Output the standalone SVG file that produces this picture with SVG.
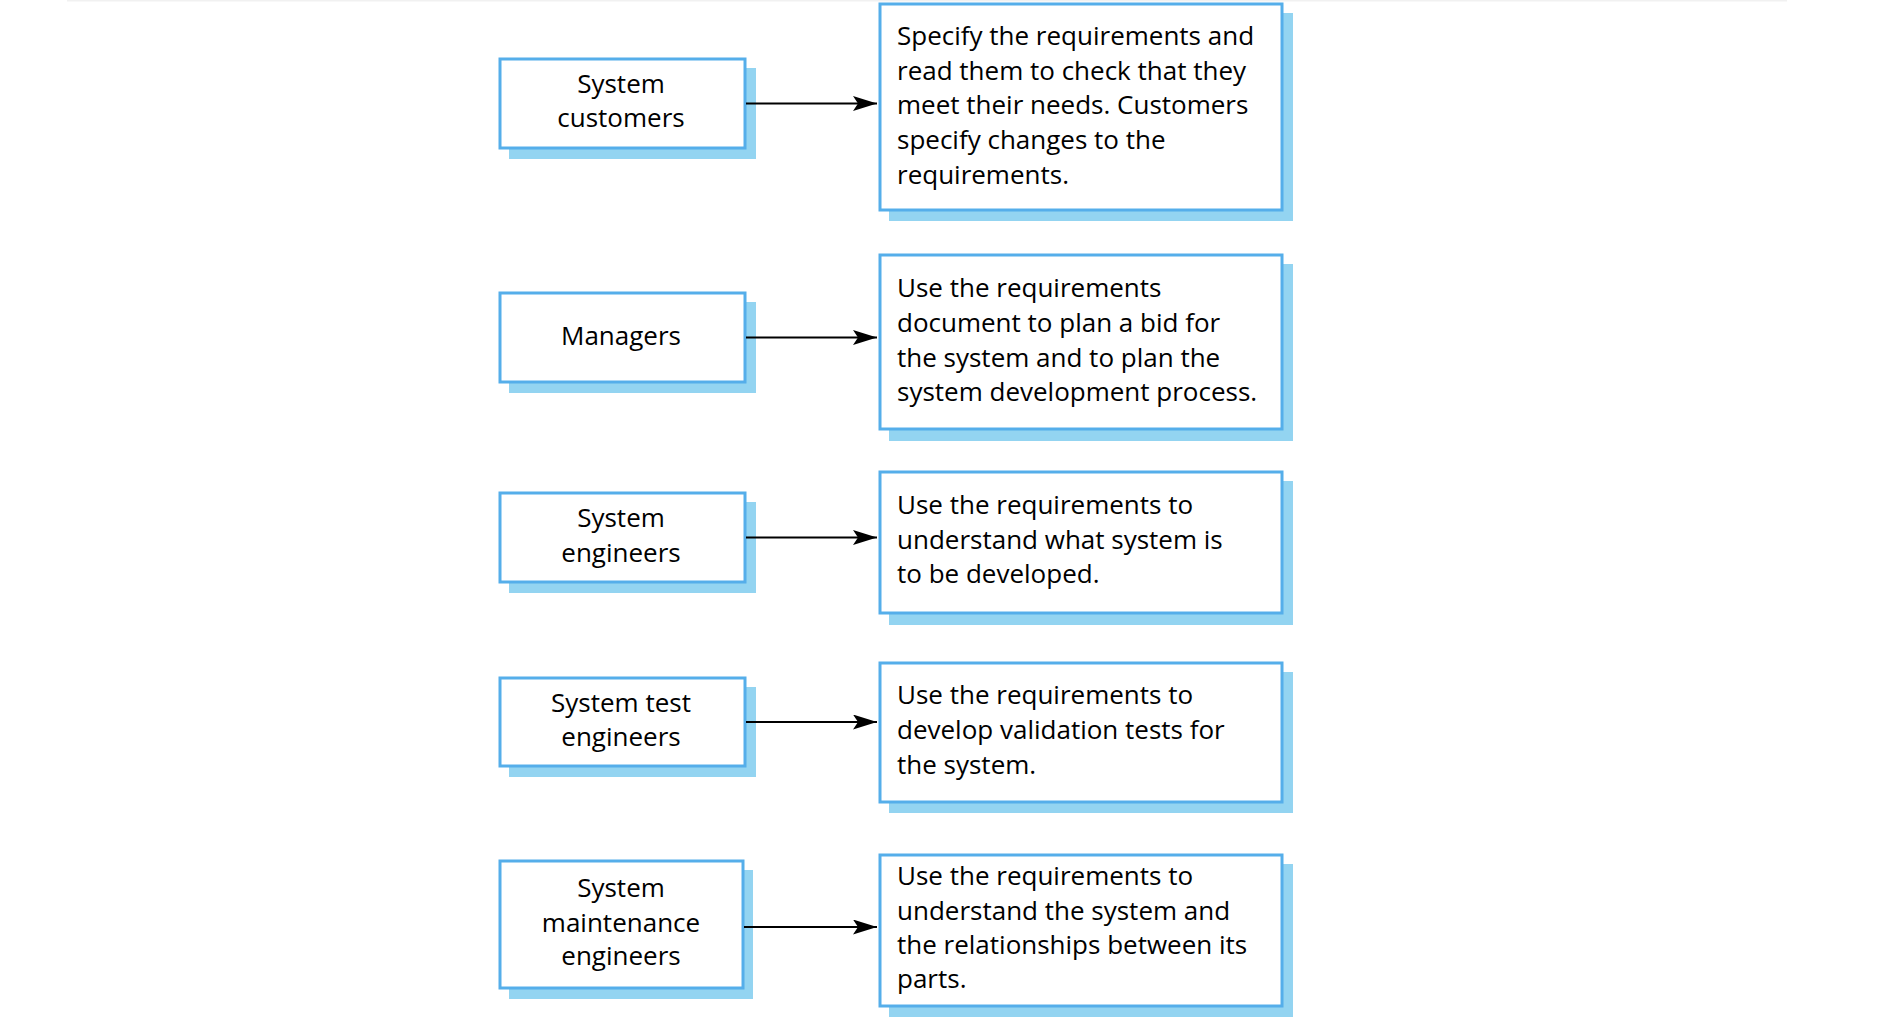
<svg xmlns="http://www.w3.org/2000/svg" width="1878" height="1032" viewBox="0 0 1878 1032">
  <style>
    .box { fill: #ffffff; stroke: #55aeea; stroke-width: 3; }
    .shadow { fill: #93d4f1; }
    .lbl { font-family: "Open Sans", "Noto Sans", "Liberation Sans", sans-serif; font-size: 26px; fill: #000000; }
    .mid { text-anchor: middle; }
    .conn { stroke: #000000; stroke-width: 1.8; fill: none; marker-end: url(#arrow); }
  </style>
  <defs>
    <marker id="arrow" markerUnits="userSpaceOnUse" markerWidth="26" markerHeight="16" refX="24" refY="7.5" orient="auto">
      <path d="M0,0 L24,7.5 L0,15 L5,7.5 Z" fill="#000000"/>
    </marker>
  </defs>
  <rect width="1878" height="1032" fill="#ffffff"/>
  <rect x="67" y="0" width="1720" height="1.5" fill="#f1f1f1"/>

  <g id="customers">
    <rect class="shadow" x="509" y="68" width="247" height="91"/>
    <rect class="box" x="500" y="59" width="245" height="89"/>
    <text class="lbl mid" x="621" y="93">System</text>
    <text class="lbl mid" x="621" y="127">customers</text>
  </g>
  <g id="customers-role">
    <rect class="shadow" x="889" y="13" width="404" height="208"/>
    <rect class="box" x="880" y="4" width="402" height="206"/>
    <text class="lbl" x="897" y="44.5">Specify the requirements and</text>
    <text class="lbl" x="897" y="79.5">read them to check that they</text>
    <text class="lbl" x="897" y="114">meet their needs. Customers</text>
    <text class="lbl" x="897" y="149">specify changes to the</text>
    <text class="lbl" x="897" y="184">requirements.</text>
  </g>

  <g id="managers">
    <rect class="shadow" x="509" y="302" width="247" height="91"/>
    <rect class="box" x="500" y="293" width="245" height="89"/>
    <text class="lbl mid" x="621" y="345">Managers</text>
  </g>
  <g id="managers-role">
    <rect class="shadow" x="889" y="264" width="404" height="177"/>
    <rect class="box" x="880" y="255" width="402" height="174"/>
    <text class="lbl" x="897" y="297">Use the requirements</text>
    <text class="lbl" x="897" y="332">document to plan a bid for</text>
    <text class="lbl" x="897" y="366.5">the system and to plan the</text>
    <text class="lbl" x="897" y="401">system development process.</text>
  </g>

  <g id="sys-engineers">
    <rect class="shadow" x="509" y="502" width="247" height="91"/>
    <rect class="box" x="500" y="493" width="245" height="89"/>
    <text class="lbl mid" x="621" y="527">System</text>
    <text class="lbl mid" x="621" y="562">engineers</text>
  </g>
  <g id="sys-engineers-role">
    <rect class="shadow" x="889" y="481" width="404" height="144"/>
    <rect class="box" x="880" y="472" width="402" height="141"/>
    <text class="lbl" x="897" y="514">Use the requirements to</text>
    <text class="lbl" x="897" y="549">understand what system is</text>
    <text class="lbl" x="897" y="583">to be developed.</text>
  </g>

  <g id="test-engineers">
    <rect class="shadow" x="509" y="687" width="247" height="90"/>
    <rect class="box" x="500" y="678" width="245" height="88"/>
    <text class="lbl mid" x="621" y="712">System test</text>
    <text class="lbl mid" x="621" y="746">engineers</text>
  </g>
  <g id="test-engineers-role">
    <rect class="shadow" x="889" y="672" width="404" height="141"/>
    <rect class="box" x="880" y="663" width="402" height="139"/>
    <text class="lbl" x="897" y="704">Use the requirements to</text>
    <text class="lbl" x="897" y="739">develop validation tests for</text>
    <text class="lbl" x="897" y="774">the system.</text>
  </g>

  <g id="maintenance-engineers">
    <rect class="shadow" x="509" y="870" width="244" height="129"/>
    <rect class="box" x="500" y="861" width="243" height="127"/>
    <text class="lbl mid" x="621" y="897">System</text>
    <text class="lbl mid" x="621" y="931.5">maintenance</text>
    <text class="lbl mid" x="621" y="965">engineers</text>
  </g>
  <g id="maintenance-engineers-role">
    <rect class="shadow" x="889" y="864" width="404" height="153"/>
    <rect class="box" x="880" y="855" width="402" height="151"/>
    <text class="lbl" x="897" y="885">Use the requirements to</text>
    <text class="lbl" x="897" y="919.5">understand the system and</text>
    <text class="lbl" x="897" y="954">the relationships between its</text>
    <text class="lbl" x="897" y="988">parts.</text>
  </g>

  <g id="connectors">
    <line class="conn" x1="746" y1="103.5" x2="877" y2="103.5"/>
    <line class="conn" x1="746" y1="337.5" x2="877" y2="337.5"/>
    <line class="conn" x1="746" y1="537.5" x2="877" y2="537.5"/>
    <line class="conn" x1="746" y1="722" x2="877" y2="722"/>
    <line class="conn" x1="744" y1="927" x2="877" y2="927"/>
  </g>
</svg>
